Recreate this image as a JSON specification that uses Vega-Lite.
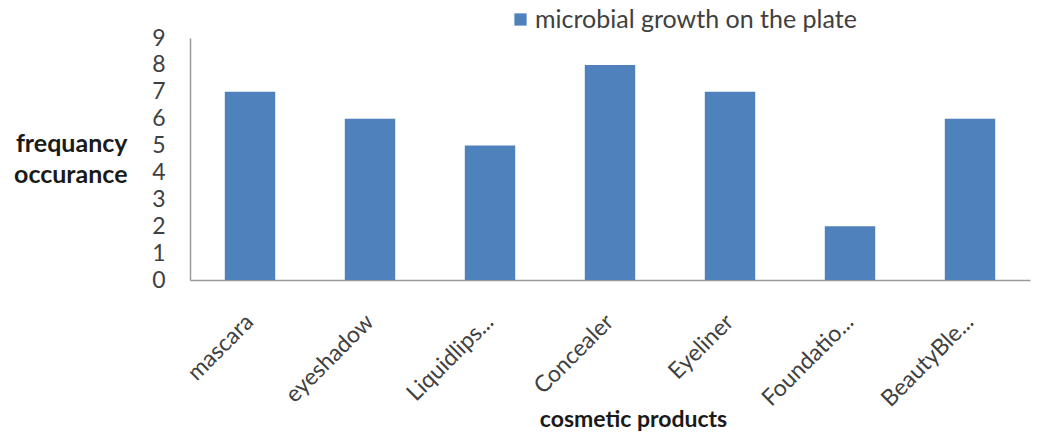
{
  "$schema": "https://vega.github.io/schema/vega-lite/v6.json",
  "width": 840,
  "height": 242,
  "autosize": {"type": "none"},
  "padding": {"left": 190, "top": 38, "right": 20, "bottom": 152},
  "background": "white",
  "config": {
    "view": {"stroke": null},
    "font": "Lato"
  },
  "data": {
    "values": [
      {"product": "mascara", "frequency": 7, "series": "microbial growth on the plate"},
      {"product": "eyeshadow", "frequency": 6, "series": "microbial growth on the plate"},
      {"product": "Liquidlips...", "frequency": 5, "series": "microbial growth on the plate"},
      {"product": "Concealer", "frequency": 8, "series": "microbial growth on the plate"},
      {"product": "Eyeliner", "frequency": 7, "series": "microbial growth on the plate"},
      {"product": "Foundatio...", "frequency": 2, "series": "microbial growth on the plate"},
      {"product": "BeautyBle...", "frequency": 6, "series": "microbial growth on the plate"}
    ]
  },
  "mark": {"type": "bar"},
  "encoding": {
    "x": {
      "field": "product",
      "type": "nominal",
      "sort": null,
      "scale": {"paddingInner": 0.58, "paddingOuter": 0.29},
      "axis": {
        "title": "cosmetic products",
        "titleFont": "Lato",
        "titleFontSize": 23,
        "titleFontWeight": "bold",
        "titleColor": "#1a1a1a",
        "titleX": 443,
        "titleY": 146,
        "titleBaseline": "alphabetic",
        "labelAngle": -45,
        "labelAlign": "right",
        "labelBaseline": "middle",
        "labelFontSize": 23,
        "labelColor": "#404040",
        "labelPadding": 38,
        "labelLimit": 0,
        "ticks": false,
        "domainColor": "#9a9a9a",
        "domainWidth": 1.5,
        "grid": false
      }
    },
    "y": {
      "field": "frequency",
      "type": "quantitative",
      "scale": {"domain": [0, 9], "nice": false},
      "axis": {
        "title": ["frequancy", "occurance"],
        "titleAngle": 0,
        "titleAlign": "right",
        "titleBaseline": "top",
        "titleX": -63,
        "titleY": 93,
        "titleLineHeight": 31,
        "titleFont": "Lato",
        "titleFontSize": 25,
        "titleFontWeight": "bold",
        "titleColor": "#1a1a1a",
        "values": [0, 1, 2, 3, 4, 5, 6, 7, 8, 9],
        "labelFontSize": 23,
        "labelColor": "#404040",
        "labelPadding": 25,
        "ticks": false,
        "grid": false,
        "domainColor": "#9a9a9a",
        "domainWidth": 1.5
      }
    },
    "color": {
      "field": "series",
      "type": "nominal",
      "scale": {"range": ["#4F81BD"]},
      "legend": {
        "title": null,
        "orient": "none",
        "legendX": 318,
        "legendY": -31,
        "symbolType": "square",
        "symbolSize": 150,
        "labelFontSize": 25,
        "labelLimit": 0,
        "labelColor": "#404040",
        "labelOffset": 2
      }
    }
  }
}
